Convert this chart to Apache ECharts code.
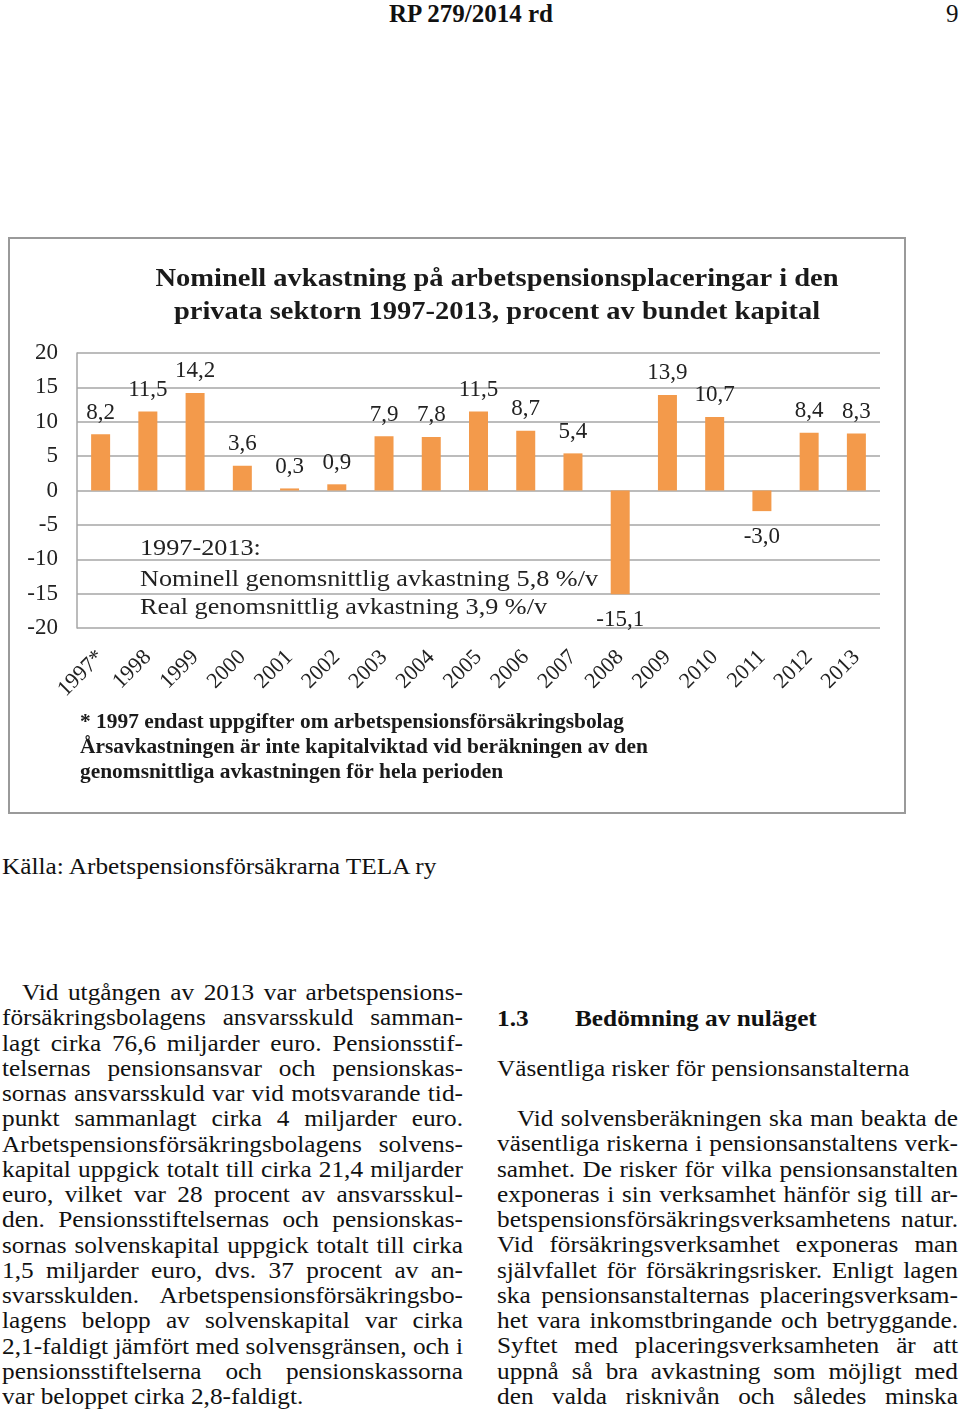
<!DOCTYPE html>
<html>
<head>
<meta charset="utf-8">
<script src="https://cdn.jsdelivr.net/npm/echarts/dist/echarts.min.js"></script>
<style>
  html, body { margin:0; padding:0; background:#fff; }
  body { width:960px; height:1414px; position:relative; overflow:hidden;
         font-family:"Liberation Serif","Times New Roman",serif; color:#111; }
  .t { position:absolute; white-space:nowrap; }
  .sx { transform:scaleX(1.1); transform-origin:0 0; }
  .ln { position:absolute; height:26px; line-height:26px; font-size:23px; white-space:nowrap;
        text-align:justify; text-align-last:justify; transform:scaleX(1.1); transform-origin:0 0; }
  .last { text-align:left; text-align-last:left; }
  #chart { position:absolute; left:8px; top:237px; width:899px; height:578px; }
</style>
</head>
<body>
<div class="t" style="left:0;width:942px;top:0;text-align:center;font-weight:bold;font-size:25px;line-height:27px;">RP 279/2014 rd</div>
<div class="t" style="left:946px;top:0;font-size:25px;line-height:27px;">9</div>
<div id="chart"></div>
<div class="t sx" style="left:2px;top:854px;font-size:23px;line-height:26px;">Källa: Arbetspensionsförsäkrarna TELA ry</div>
<script>
// ---- chart data ----
const categories = ['1997*','1998','1999','2000','2001','2002','2003','2004','2005','2006','2007','2008','2009','2010','2011','2012','2013'];
const returns = [8.2, 11.5, 14.2, 3.6, 0.3, 0.9, 7.9, 7.8, 11.5, 8.7, 5.4, -15.1, 13.9, 10.7, -3.0, 8.4, 8.3];
const yTicks = [-20, -15, -10, -5, 0, 5, 10, 15, 20];
const titleLines = ['Nominell avkastning på arbetspensionsplaceringar i den', 'privata sektorn 1997-2013, procent av bundet kapital'];
const noteLines = ['1997-2013:', 'Nominell genomsnittlig avkastning 5,8 %/v', 'Real genomsnittlig avkastning 3,9 %/v'];
const footLines = ['* 1997 endast uppgifter om arbetspensionsförsäkringsbolag', 'Årsavkastningen är inte kapitalviktad vid beräkningen av den', 'genomsnittliga avkastningen för hela perioden'];

// ---- page text ----
const leftLines = [
 'Vid utgången av 2013 var arbetspensions-',
 'försäkringsbolagens ansvarsskuld samman-',
 'lagt cirka 76,6 miljarder euro. Pensionsstif-',
 'telsernas pensionsansvar och pensionskas-',
 'sornas ansvarsskuld var vid motsvarande tid-',
 'punkt sammanlagt cirka 4 miljarder euro.',
 'Arbetspensionsförsäkringsbolagens solvens-',
 'kapital uppgick totalt till cirka 21,4 miljarder',
 'euro, vilket var 28 procent av ansvarsskul-',
 'den. Pensionsstiftelsernas och pensionskas-',
 'sornas solvenskapital uppgick totalt till cirka',
 '1,5 miljarder euro, dvs. 37 procent av an-',
 'svarsskulden. Arbetspensionsförsäkringsbo-',
 'lagens belopp av solvenskapital var cirka',
 '2,1-faldigt jämfört med solvensgränsen, och i',
 'pensionsstiftelserna och pensionskassorna',
 'var beloppet cirka 2,8-faldigt.'
];
const rightLines = [
 'Vid solvensberäkningen ska man beakta de',
 'väsentliga riskerna i pensionsanstaltens verk-',
 'samhet. De risker för vilka pensionsanstalten',
 'exponeras i sin verksamhet hänför sig till ar-',
 'betspensionsförsäkringsverksamhetens natur.',
 'Vid försäkringsverksamhet exponeras man',
 'självfallet för försäkringsrisker. Enligt lagen',
 'ska pensionsanstalternas placeringsverksam-',
 'het vara inkomstbringande och betryggande.',
 'Syftet med placeringsverksamheten är att',
 'uppnå så bra avkastning som möjligt med',
 'den valda risknivån och således minska'
];

function addLines(lines, x, w, y0, lastLeft) {
  lines.forEach((s, i) => {
    const d = document.createElement('div');
    d.className = 'ln' + ((lastLeft && i === lines.length - 1) ? ' last' : '');
    const indent = i === 0 ? 20 : 0;
    d.style.left = (x + indent) + 'px';
    d.style.width = ((w - indent) / 1.1) + 'px';
    d.style.top = (y0 + i * 25.25 - 13) + 'px';
    d.textContent = s;
    document.body.appendChild(d);
  });
}
addLines(leftLines, 2, 461, 993, true);
addLines(rightLines, 497, 461, 1119, false);
function addText(txt, x, y, extra) {
  const d = document.createElement('div');
  d.className = 't sx';
  d.style.cssText += 'left:' + x + 'px;top:' + y + 'px;font-size:23px;line-height:26px;' + (extra || '');
  d.textContent = txt;
  document.body.appendChild(d);
}
addText('1.3', 497, 1006, 'font-weight:bold;');
addText('Bedömning av nuläget', 575, 1006, 'font-weight:bold;');
addText('Väsentliga risker för pensionsanstalterna', 497, 1056);

// ---- chart ----
const serif = '"Liberation Serif","Times New Roman",serif';
const chart = echarts.init(document.getElementById('chart'), null, {renderer:'canvas'});
const fmt = v => v.toFixed(1).replace('.', ',');
chart.setOption({
  animation: false,
  backgroundColor: '#fff',
  grid: { left: 69, top: 116, width: 803, height: 275, containLabel: false },
  xAxis: {
    type: 'category', data: categories,
    axisLine: { show: false }, axisTick: { show: false },
    axisLabel: { rotate: 45, interval: 0, margin: 26, fontFamily: serif, fontSize: 22, color: '#222' }
  },
  yAxis: {
    type: 'value', min: yTicks[0], max: yTicks[yTicks.length - 1], interval: 5,
    axisLine: { show: true, lineStyle: { color: '#a6a6a6', width: 1.5 } },
    axisTick: { show: false },
    splitLine: { lineStyle: { color: '#a6a6a6', width: 1.5 } },
    axisLabel: { margin: 19, fontFamily: serif, fontSize: 23, color: '#222' }
  },
  series: [{
    type: 'bar', barWidth: 19,
    data: returns.map(v => ({ value: v, label: { position: v < 0 ? 'bottom' : 'top', distance: v < 0 ? 14 : 10 } })),
    itemStyle: { color: '#F39A4B' },
    label: { show: true, fontFamily: serif, fontSize: 23, color: '#222',
             formatter: p => fmt(p.value) }
  }],
  graphic: [
    { type: 'rect', shape: { x: 1, y: 1, width: 896, height: 575 },
      style: { fill: 'none', stroke: '#9a9a9a', lineWidth: 2 }, silent: true },
    { type: 'text', x: 489, y: 42, scaleX: 1.096, style: { text: titleLines[0], textAlign: 'center', textVerticalAlign: 'middle',
      font: 'bold 26px ' + serif, fill: '#1a1a1a' } },
    { type: 'text', x: 489, y: 75, scaleX: 1.096, style: { text: titleLines[1], textAlign: 'center', textVerticalAlign: 'middle',
      font: 'bold 26px ' + serif, fill: '#1a1a1a' } },
    ...noteLines.map((s, i) => ({ type: 'text', x: 132, y: [312, 343, 371][i], scaleX: 1.14,
      style: { text: s, textVerticalAlign: 'middle', font: '23px ' + serif, fill: '#222' } })),
    ...footLines.map((s, i) => ({ type: 'text', x: 72, y: 486 + i * 25, scaleX: 1.07,
      style: { text: s, textVerticalAlign: 'middle', font: 'bold 20px ' + serif, fill: '#1a1a1a' } }))
  ]
});
</script>
</body>
</html>
